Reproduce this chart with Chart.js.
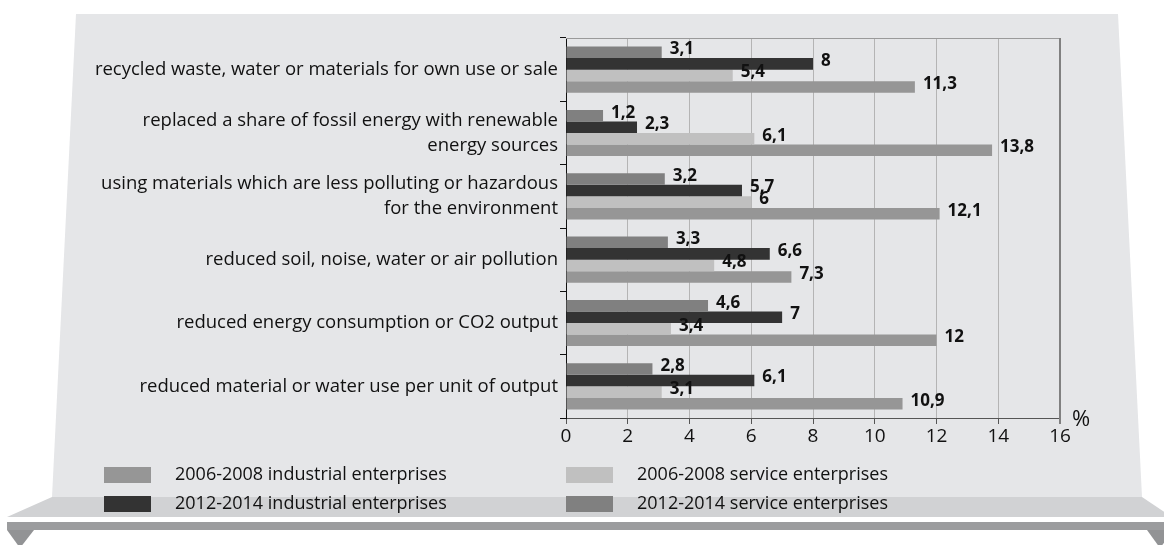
<!DOCTYPE html>
<html>
<head>
<meta charset="utf-8">
<script src="https://cdn.jsdelivr.net/npm/chart.js@4"></script>
<style>
html,body{margin:0;padding:0;background:#fff;}
#wrap{width:1164px;height:545px;position:relative;}
</style>
</head>
<body>
<div id="wrap"><canvas id="c" width="1164" height="545"></canvas></div>
<script>
const categories = [
  ["recycled waste, water or materials for own use or sale"],
  ["replaced a share of fossil energy with renewable", "energy sources"],
  ["using materials which are less polluting or hazardous", "for the environment"],
  ["reduced soil, noise, water or air pollution"],
  ["reduced energy consumption or CO2 output"],
  ["reduced material or water use per unit of output"]
];
const seriesNames = [
  "2012-2014 service enterprises",
  "2012-2014 industrial enterprises",
  "2006-2008 service enterprises",
  "2006-2008 industrial enterprises"
];
const service1214 = [3.1, 1.2, 3.2, 3.3, 4.6, 2.8];
const industrial1214 = [8, 2.3, 5.7, 6.6, 7, 6.1];
const service0608 = [5.4, 6.1, 6, 4.8, 3.4, 3.1];
const industrial0608 = [11.3, 13.8, 12.1, 7.3, 12, 10.9];
const seriesColors = ["#808080", "#333333", "#c0c0c0", "#969696"];
const xTicks = [0, 2, 4, 6, 8, 10, 12, 14, 16];
const unitLabel = "%";
// legend order: column 1 then column 2
const legendOrder = [3, 1, 2, 0];

const FONT = "'Open Sans', 'Noto Sans', sans-serif";

const bgPlugin = {
  id: 'bg',
  beforeDraw(chart) {
    const ctx = chart.ctx;
    ctx.save();
    ctx.fillStyle = '#e5e6e8';
    ctx.beginPath();
    ctx.moveTo(76, 14); ctx.lineTo(1118, 14); ctx.lineTo(1142, 497); ctx.lineTo(52, 497);
    ctx.closePath(); ctx.fill();
    ctx.fillStyle = '#d1d2d4';
    ctx.beginPath();
    ctx.moveTo(52, 497); ctx.lineTo(1142, 497); ctx.lineTo(1172, 517); ctx.lineTo(7, 517);
    ctx.closePath(); ctx.fill();
    ctx.fillStyle = '#9b9c9e';
    ctx.fillRect(7, 522, 1160, 8);
    ctx.fillStyle = '#929395';
    ctx.beginPath();
    ctx.moveTo(7, 530); ctx.lineTo(34, 530); ctx.lineTo(20, 548); ctx.closePath(); ctx.fill();
    ctx.beginPath();
    ctx.moveTo(1147, 530); ctx.lineTo(1174, 530); ctx.lineTo(1160, 548); ctx.closePath(); ctx.fill();
    ctx.restore();
  },
  afterDraw(chart) {
    const ctx = chart.ctx;
    const a = chart.chartArea;
    ctx.save();
    ctx.strokeStyle = '#9a9a9a';
    ctx.lineWidth = 1;
    ctx.beginPath();
    ctx.moveTo(a.left, a.top + 0.5); ctx.lineTo(a.right, a.top + 0.5);
    ctx.stroke();
    ctx.strokeStyle = '#808080';
    ctx.lineWidth = 2;
    ctx.beginPath();
    ctx.moveTo(a.right, a.top); ctx.lineTo(a.right, a.bottom + 6);
    ctx.stroke();
    ctx.fillStyle = '#111';
    ctx.font = "bold 17px " + FONT;
    ctx.textBaseline = 'middle';
    ctx.textAlign = 'left';
    chart.data.datasets.forEach((ds, di) => {
      const meta = chart.getDatasetMeta(di);
      meta.data.forEach((bar, i) => {
        const v = ds.data[i];
        const txt = String(v).replace('.', ',');
        ctx.fillText(txt, bar.x + 8, bar.y - 3);
      });
    });
    ctx.font = "22px " + FONT;
    ctx.fillText(unitLabel, a.right + 12, a.bottom + 2);
    ctx.font = "18px " + FONT;
    legendOrder.forEach((di, k) => {
      const col = Math.floor(k / 2), row = k % 2;
      const bx = col === 0 ? 104 : 566;
      const by = row === 0 ? 467 : 496;
      ctx.fillStyle = chart.data.datasets[di].backgroundColor;
      ctx.fillRect(bx, by, 47, 16);
      ctx.fillStyle = '#111';
      ctx.fillText(chart.data.datasets[di].label, bx + 71, by + 8);
    });
    ctx.restore();
  }
};

const dataArrays = [service1214, industrial1214, service0608, industrial0608];

new Chart(document.getElementById('c'), {
  type: 'bar',
  data: {
    labels: categories,
    datasets: dataArrays.map((d, i) => ({
      label: seriesNames[i],
      data: d,
      backgroundColor: seriesColors[i],
      borderWidth: 0,
      categoryPercentage: 0.73,
      barPercentage: 1.0
    }))
  },
  options: {
    indexAxis: 'y',
    responsive: false,
    animation: false,
    events: [],
    layout: { padding: { left: 0, right: 104, top: 38, bottom: 97 } },
    plugins: { legend: { display: false }, tooltip: { enabled: false } },
    scales: {
      x: {
        min: 0, max: 16,
        afterBuildTicks(scale) { scale.ticks = xTicks.map(v => ({ value: v })); },
        afterFit(scale) { scale.height = 30; },
        grid: { color: '#b4b4b4', lineWidth: 1, drawTicks: true, tickLength: 6, tickColor: '#555' },
        border: { display: true, color: '#555', width: 1 },
        ticks: { color: '#111', font: { family: FONT, size: 19 }, padding: 1 }
      },
      y: {
        afterFit(scale) { scale.width = 566; },
        grid: { drawOnChartArea: false, drawTicks: true, tickLength: 6, color: '#111', offset: true },
        border: { display: true, color: '#111', width: 1 },
        ticks: { color: '#111', font: { family: FONT, size: 18.5, lineHeight: 1.36 }, padding: 2, crossAlign: 'near' }
      }
    }
  },
  plugins: [bgPlugin]
});
</script>
</body>
</html>
